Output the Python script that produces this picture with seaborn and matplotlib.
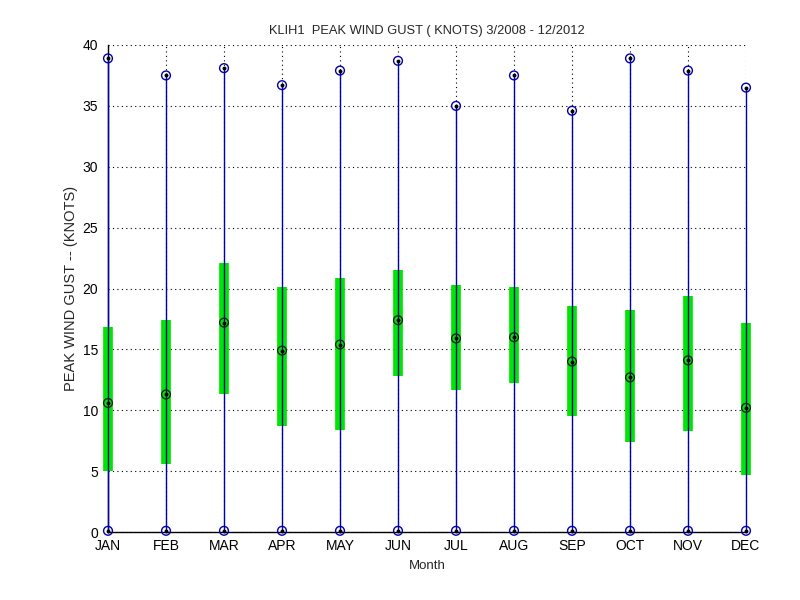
import matplotlib
matplotlib.use("Agg")
import matplotlib.pyplot as plt
import seaborn as sns
import numpy as np
import pandas as pd

months = ["JAN", "FEB", "MAR", "APR", "MAY", "JUN", "JUL", "AUG", "SEP", "OCT", "NOV", "DEC"]
gust_max = [38.9, 37.5, 38.1, 36.7, 37.9, 38.7, 35.0, 37.5, 34.6, 38.9, 37.9, 36.5]
gust_min = [0.1, 0.1, 0.1, 0.1, 0.1, 0.1, 0.1, 0.1, 0.1, 0.1, 0.1, 0.1]
q_upper = [16.8, 17.4, 22.1, 20.1, 20.9, 21.5, 20.3, 20.1, 18.6, 18.2, 19.4, 17.2]
q_lower = [5.0, 5.6, 11.3, 8.7, 8.4, 12.8, 11.7, 12.2, 9.5, 7.4, 8.3, 4.7]
median = [10.6, 11.3, 17.2, 14.9, 15.4, 17.4, 15.9, 16.0, 14.0, 12.7, 14.1, 10.2]
yticks = [0, 5, 10, 15, 20, 25, 30, 35, 40]

sns.set_style("white")
plt.rcParams['font.family'] = ['Liberation Sans', 'DejaVu Sans']

df = pd.DataFrame({"x": np.arange(1, 13), "month": months, "max": gust_max,
                   "min": gust_min, "q1": q_lower, "q3": q_upper, "med": median})

fig = plt.figure(figsize=(8, 6), dpi=100)
ax = fig.add_axes([0.135, 0.1133, 0.7975, 0.8117])
ax.set_axisbelow(True)

# boxes
ax.vlines(df["x"], df["q1"], df["q3"], color="#00e600", lw=7, zorder=3, clip_on=False)
# whiskers
ax.vlines(df["x"], df["min"], df["max"], color="#0000aa", lw=1.0, zorder=4, clip_on=False)

# extreme markers
for col in ["max", "min"]:
    sns.scatterplot(data=df, x="x", y=col, ax=ax, marker="o", s=40,
                    facecolor="none", edgecolor="#0000aa", linewidth=1.0, zorder=5, clip_on=False)
    sns.scatterplot(data=df, x="x", y=col, ax=ax, marker="o", s=8,
                    color="black", linewidth=0, zorder=6, clip_on=False)
# medians
sns.scatterplot(data=df, x="x", y="med", ax=ax, marker="o", s=40,
                facecolor="none", edgecolor="#222222", linewidth=1.0, zorder=5, clip_on=False)
sns.scatterplot(data=df, x="x", y="med", ax=ax, marker="o", s=8,
                color="black", linewidth=0, zorder=6, clip_on=False)

ax.set_xlim(1, 12)
ax.set_ylim(0, 40)
ax.set_xticks(df["x"])
ax.set_xticklabels(months)
ax.set_yticks(yticks)
ax.grid(True, color="black", linestyle=(0, (1, 3)), linewidth=0.8, zorder=0)
for s in ["top", "right"]:
    ax.spines[s].set_visible(False)
for s in ["left", "bottom"]:
    ax.spines[s].set_color("black")
    ax.spines[s].set_linewidth(1.0)
ax.tick_params(direction="in", length=5, labelsize=10, colors="black")
ax.tick_params(axis="x", pad=5)
ax.tick_params(axis="y", pad=7)
ax.set_xlabel("Month", fontsize=9.5, labelpad=5)
ax.set_ylabel("PEAK WIND GUST -- (KNOTS)", fontsize=10.5, labelpad=3)
ax.set_title("KLIH1  PEAK WIND GUST ( KNOTS) 3/2008 - 12/2012", fontsize=9.3, pad=8)

fig.savefig("out.png", dpi=100)
